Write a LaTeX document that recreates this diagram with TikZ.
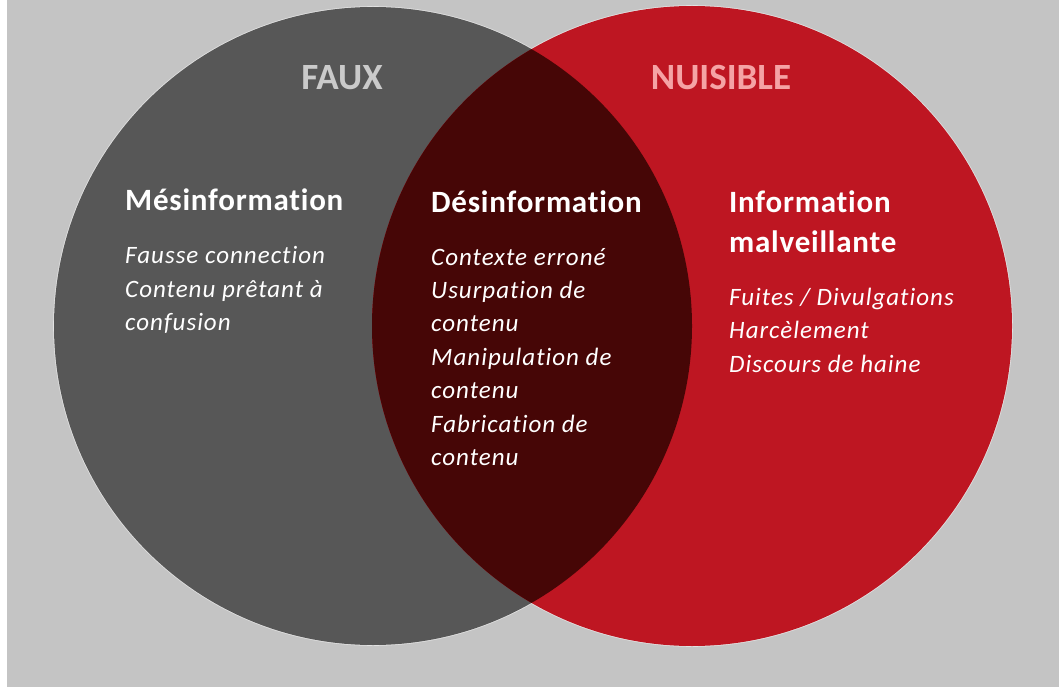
\documentclass[tikz,border=0pt]{standalone}
\usepackage{fontspec}
\setmainfont{Carlito}[Ligatures=NoCommon]
\newfontfamily\headfont{Carlito}[LetterSpace=2.5, Ligatures=NoCommon]
\newfontfamily\itemfont{Carlito}[LetterSpace=4, Ligatures=NoCommon]
\definecolor{bggray}{HTML}{C4C4C4}
\definecolor{darkc}{HTML}{575757}
\definecolor{redc}{HTML}{BE1622}
\definecolor{interc}{HTML}{460606}
\definecolor{fauxc}{HTML}{CACACA}
\definecolor{nuisc}{HTML}{F5A3A5}
\definecolor{haloc}{HTML}{E2E2E2}
\tikzset{
  titletext/.style={font=\fontsize{37}{40}\selectfont\bfseries, inner sep=0pt, anchor=base},
  headtext/.style={font=\headfont\fontsize{31}{40}\selectfont\bfseries, text=white, inner sep=0pt, anchor=base west},
  itemtext/.style={font=\itemfont\fontsize{25}{33}\selectfont\itshape, text=white, inner sep=0pt, anchor=base west},
}
\begin{document}
\begin{tikzpicture}[x=1pt,y=-1pt]
\useasboundingbox (0,0) rectangle (1059,687);
\fill[white] (0,0) rectangle (1059,687);
\fill[bggray] (7.3,0) rectangle (1059,687);
% halos
\draw[haloc, line width=1.6pt] (373,326) circle[radius=319];
\draw[haloc, line width=1.6pt] (692,326) circle[radius=320];
\fill[darkc] (373,326) circle[radius=319];
\fill[redc] (692,326) circle[radius=320];
\begin{scope}
  \clip (373,326) circle[radius=319];
  \fill[interc] (692,326) circle[radius=320];
\end{scope}
% titles
\node[titletext, text=fauxc] (faux) at (342,90) {FAUX};
\node[titletext, text=nuisc] (nuis) at (721,90) {NUISIBLE};
% left
\node[headtext] (mes) at (125,210) {Mésinformation};
\node[itemtext] (mes1) at (125,263) {Fausse connection};
\node[itemtext] (mes2) at (125,297) {Contenu prêtant à};
\node[itemtext] (mes3) at (125,330) {confusion};
% middle
\node[headtext] (des) at (431,212) {Désinformation};
\node[itemtext] (des1) at (431,265) {Contexte erroné};
\node[itemtext] (des2) at (431,298) {Usurpation de};
\node[itemtext] (des3) at (431,331) {contenu};
\node[itemtext] (des4) at (431,365) {Manipulation de};
\node[itemtext] (des5) at (431,398) {contenu};
\node[itemtext] (des6) at (431,432) {Fabrication de};
\node[itemtext] (des7) at (431,465) {contenu};
% right
\node[headtext] (mal1) at (729,212) {Information};
\node[headtext] (mal2) at (729,252) {malveillante};
\node[itemtext] (mali1) at (729,305) {Fuites / Divulgations};
\node[itemtext] (mali2) at (729,338) {Harcèlement};
\node[itemtext] (mali3) at (729,372) {Discours de haine};
\end{tikzpicture}
\end{document}
